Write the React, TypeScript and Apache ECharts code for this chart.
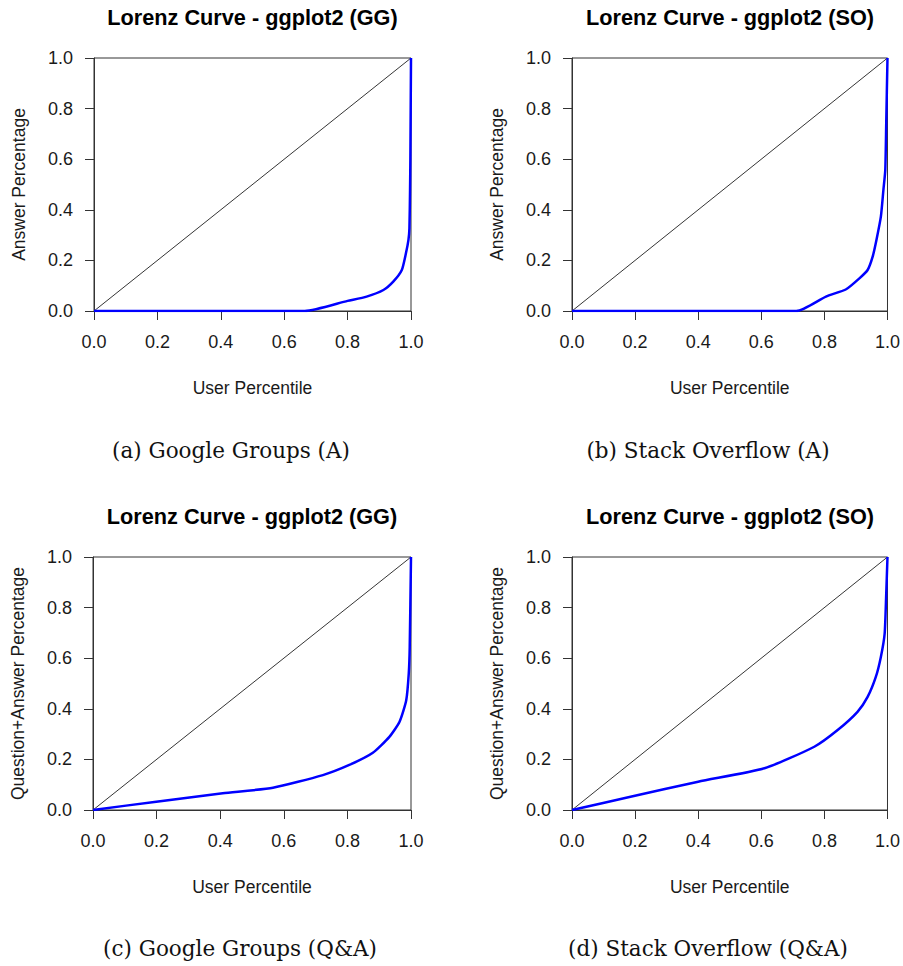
import React, { useEffect, useRef } from "react";
import * as echarts from "echarts";

// Panel titles, axis names and captions
const panelTitles = [
  "Lorenz Curve - ggplot2 (GG)",
  "Lorenz Curve - ggplot2 (SO)",
  "Lorenz Curve - ggplot2 (GG)",
  "Lorenz Curve - ggplot2 (SO)",
];
const yNames = [
  "Answer Percentage",
  "Answer Percentage",
  "Question+Answer Percentage",
  "Question+Answer Percentage",
];
const xName = "User Percentile";
const captions = [
  "(a) Google Groups (A)",
  "(b) Stack Overflow (A)",
  "(c) Google Groups (Q&A)",
  "(d) Stack Overflow (Q&A)",
];

// Lorenz curve points (user percentile, cumulative share)
const ggAX = [0, 0.665, 0.8, 0.86, 0.913, 0.944, 0.971, 0.984, 0.992, 0.995, 0.997, 0.998, 1];
const ggAY = [0, 0, 0.04, 0.057, 0.083, 0.116, 0.162, 0.228, 0.281, 0.327, 0.478, 0.6, 1];

const soAX = [0, 0.711, 0.805, 0.869, 0.911, 0.937, 0.953, 0.965, 0.979, 0.987, 0.993, 0.996, 1];
const soAY = [0, 0, 0.057, 0.086, 0.129, 0.162, 0.215, 0.281, 0.373, 0.478, 0.557, 0.742, 1];

const ggQX = [0, 0.199, 0.408, 0.566, 0.723, 0.806, 0.88, 0.932, 0.964, 0.985, 0.993, 0.996, 1];
const ggQY = [0, 0.033, 0.066, 0.088, 0.138, 0.178, 0.226, 0.289, 0.349, 0.434, 0.54, 0.645, 1];

const soQX = [0, 0.189, 0.4, 0.61, 0.768, 0.842, 0.905, 0.937, 0.963, 0.979, 0.991, 0.996, 1];
const soQY = [0, 0.053, 0.112, 0.165, 0.25, 0.316, 0.388, 0.447, 0.526, 0.605, 0.697, 0.855, 1];

const equalityX = [0, 1];
const equalityY = [0, 1];

const curvesX = [ggAX, soAX, ggQX, soQX];
const curvesY = [ggAY, soAY, ggQY, soQY];

const grids = [
  { left: 94, top: 58, width: 317, height: 253 },
  { left: 572, top: 58, width: 316, height: 253 },
  { left: 93, top: 557, width: 318, height: 253 },
  { left: 572, top: 557, width: 316, height: 253 },
];
const captionPos = [
  { x: 231, y: 450 },
  { x: 708, y: 450 },
  { x: 240, y: 948 },
  { x: 708, y: 948 },
];

const zip = (xs: number[], ys: number[]) => xs.map((x, i) => [x, ys[i]]);

export default function App() {
  const ref = useRef<HTMLDivElement>(null);
  useEffect(() => {
    if (!ref.current) return;
    const chart = echarts.init(ref.current, null, { renderer: "svg" });
    const sans = "'Liberation Sans', Arial, sans-serif";
    const axisCommon = {
      type: "value" as const,
      min: 0,
      max: 1,
      interval: 0.2,
      axisLine: { show: true, onZero: false, lineStyle: { color: "#333", width: 1 } },
      axisTick: { show: true, inside: false, length: 9, lineStyle: { color: "#333", width: 1 } },
      splitLine: { show: false },
      axisLabel: {
        color: "#1a1a1a",
        fontFamily: sans,
        fontSize: 18,
        formatter: (v: number) => v.toFixed(1),
      },
    };
    const xAxes = grids.map((_, i) => ({
      ...axisCommon,
      gridIndex: i,
      position: "bottom",
      name: xName,
      nameLocation: "middle",
      nameGap: 68,
      nameTextStyle: { color: "#1a1a1a", fontFamily: sans, fontSize: 17.5 },
      axisLabel: { ...axisCommon.axisLabel, margin: 22 },
    }));
    const yAxes = grids.map((_, i) => ({
      ...axisCommon,
      gridIndex: i,
      position: "left",
      name: yNames[i],
      nameLocation: "middle",
      nameGap: 66,
      nameTextStyle: { color: "#1a1a1a", fontFamily: sans, fontSize: 17.5 },
      axisLabel: { ...axisCommon.axisLabel, margin: 21 },
    }));
    const series: any[] = [];
    grids.forEach((_, i) => {
      series.push({
        type: "line",
        xAxisIndex: i,
        yAxisIndex: i,
        data: zip(equalityX, equalityY),
        showSymbol: false,
        lineStyle: { color: "#000", width: 0.8 },
        silent: true,
      });
      series.push({
        type: "line",
        xAxisIndex: i,
        yAxisIndex: i,
        data: zip(curvesX[i], curvesY[i]),
        showSymbol: false,
        smooth: 0.2,
        lineStyle: { color: "#0000ff", width: 2.5 },
        silent: true,
      });
    });
    const graphic: any[] = [];
    grids.forEach((g, i) => {
      graphic.push({
        type: "text",
        x: g.left + g.width / 2,
        y: g.top - 41,
        style: {
          text: panelTitles[i],
          fill: "#000",
          font: `bold 21.7px ${sans}`,
          align: "center",
          verticalAlign: "middle",
        },
      });
      graphic.push({
        type: "text",
        x: captionPos[i].x,
        y: captionPos[i].y,
        style: {
          text: captions[i],
          fill: "#111",
          font: `21.5px 'DejaVu Serif', serif`,
          align: "center",
          verticalAlign: "middle",
        },
      });
    });
    chart.setOption({
      animation: false,
      backgroundColor: "#fff",
      grid: grids.map((g) => ({ ...g, show: true, borderColor: "#333", borderWidth: 1, backgroundColor: "transparent" })),
      xAxis: xAxes,
      yAxis: yAxes,
      series,
      graphic,
    });
    return () => chart.dispose();
  }, []);
  return (
    <div
      ref={ref}
      style={{ position: "fixed", left: 0, top: 0, width: 903, height: 966, background: "#fff" }}
    />
  );
}
